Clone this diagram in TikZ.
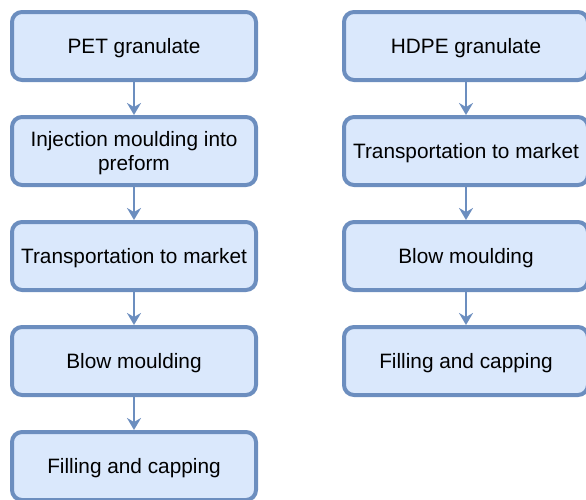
\documentclass[tikz,border=0pt]{standalone}
\usepackage{fontspec}
\setmainfont{Liberation Sans}
\usetikzlibrary{positioning,arrows.meta}

\definecolor{boxfill}{HTML}{DAE8FC}
\definecolor{boxline}{HTML}{6C8EBF}

\begin{document}
\begin{tikzpicture}[x=1pt,y=1pt,
    stage/.style={draw=boxline, fill=boxfill, line width=4pt, rounded corners=10pt,
      minimum width=244pt, minimum height=68pt, align=center, inner sep=2pt,
      text depth=0pt, font=\fontsize{20.8}{24}\selectfont},
    flow/.style={draw=boxline, line width=2pt, -{Stealth[length=12pt,width=14pt,inset=4pt]}},
    node distance=33pt]
      \useasboundingbox (0,0) rectangle (586,-499);

      % PET bottle chain
      \node[stage] (pet1) at (134,-46) {PET granulate};
      \node[stage, below=of pet1] (pet2) {Injection moulding into\\preform};
      \node[stage, below=of pet2] (pet3) {Transportation to market};
      \node[stage, below=of pet3] (pet4) {Blow moulding};
      \node[stage, below=of pet4] (pet5) {Filling and capping};

      % HDPE bottle chain
      \node[stage] (hdpe1) at (466,-46) {HDPE granulate};
      \node[stage, below=of hdpe1] (hdpe2) {Transportation to market};
      \node[stage, below=of hdpe2] (hdpe3) {Blow moulding};
      \node[stage, below=of hdpe3] (hdpe4) {Filling and capping};

      % Draw the arrows between the steps
      \foreach \from/\to in {pet1/pet2, pet2/pet3, pet3/pet4, pet4/pet5,
                             hdpe1/hdpe2, hdpe2/hdpe3, hdpe3/hdpe4}
        \draw[flow] (\from) -- (\to);
    \end{tikzpicture}
\end{document}
